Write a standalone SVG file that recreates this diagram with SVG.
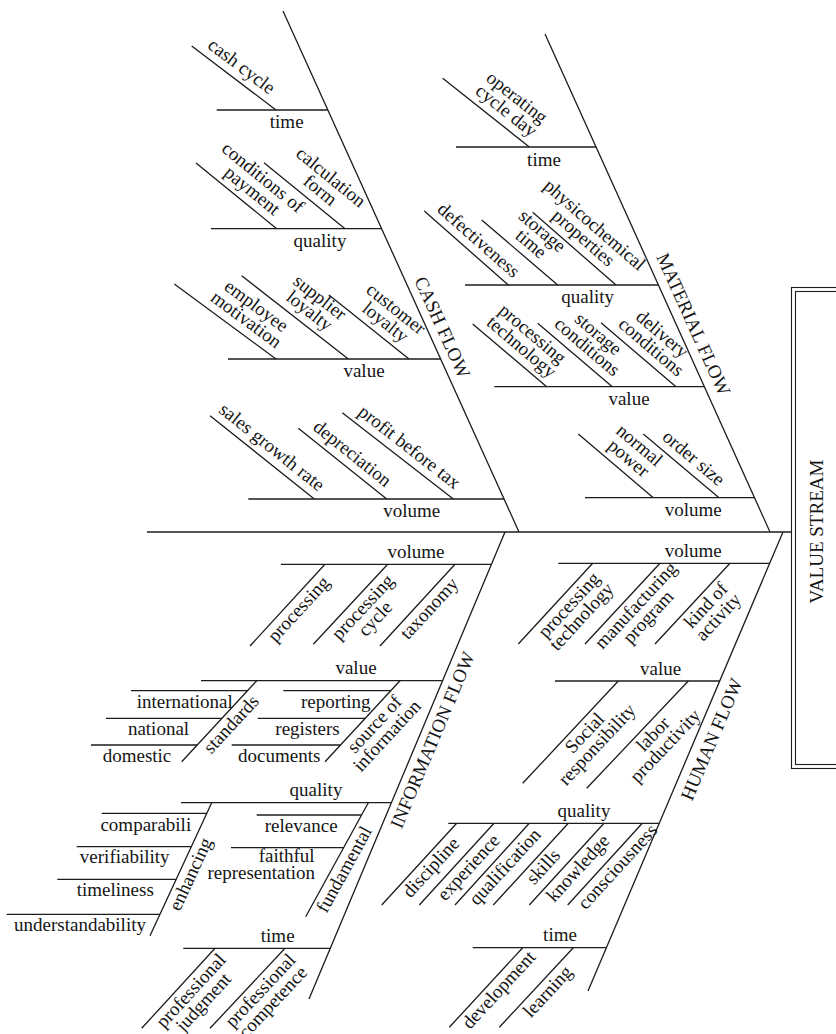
<svg xmlns="http://www.w3.org/2000/svg" width="836" height="1034" viewBox="0 0 836 1034">
<style>
.ln{stroke:#1c1c1c;stroke-width:1.3;fill:none;stroke-linecap:butt}
.bx{stroke:#1c1c1c;stroke-width:1.1;fill:none}
text{font-family:"Liberation Serif","Times New Roman",serif;font-size:19px;fill:#151515;text-anchor:middle}
</style>
<rect width="836" height="1034" fill="#ffffff"/>
<g id="connectors">
<path class="ln" d="M147,532 H791.5"/>
<path class="ln" d="M283,11 L519,532 M545,34 L770,532 M505,532 L309,999 M783,532 L588,991"/>
<path class="ln" d="M216.7,110 H327.8 M211,228.7 H381.6 M228,359 H440.6 M248.3,499 H504.1"/>
<path class="ln" d="M191.7,46 L276,110 M264,162.7 L345,228.7 M196,163 L276.7,228.7 M329,295 L409,359 M241.7,275.7 L348.3,359 M174.3,284 L276,359 M342.3,412.7 L453.3,499 M298.3,428.3 L386.7,499 M210,415.7 L314.3,499"/>
<path class="ln" d="M456,147 H596 M465,285 H658.4 M494.3,386.7 H704.3 M585,497.7 H754.5"/>
<path class="ln" d="M442.7,78.3 L529.3,147 M424.3,211 L508.3,285 M481.7,220 L557.7,285 M532.7,212.3 L616,285 M472.7,324 L546.7,386.7 M537.7,323.3 L612.3,386.7 M601,322.7 L676,386.7 M578.3,434 L653.3,497.7 M643.3,434 L719,497.7"/>
<path class="ln" d="M281,564.3 H491.4 M201,680.7 H442.5 M181,802.7 H391.3 M183.3,948.3 H330.2"/>
<path class="ln" d="M325,564.3 L250,646 M387.7,564.3 L313.3,644.3 M455,564.3 L380,646 M256.7,680.7 L181.7,761.7 M400,680.7 L325,761.7 M211.7,802.7 L150,935.7 M368.3,802.7 L305.7,916.7 M215,948.3 L141.7,1028.3 M285,948.3 L210,1028.3"/>
<path class="ln" d="M131,690.7 H247.4 M106,718.3 H221.9 M91,745 H197.2 M283.3,690.7 H390.7 M257.7,718.3 H365.2 M231.7,745 H340.5 M101.7,813.3 H206.8 M76.7,846.7 H191.3 M57.3,879.3 H176.2 M6.7,914.3 H159.9 M256.7,815 H361.5 M231,847.7 H343.6"/>
<path class="ln" d="M558.3,563.3 H770 M555,681 H719.7 M448.3,823.3 H659.2 M472.7,947.7 H606.3"/>
<path class="ln" d="M592.7,563.3 L518.3,644 M660,563.3 L585,644 M730,563.3 L655,644 M618.3,681 L522.7,783.3 M688.3,681 L586.7,788.3 M456.7,823.3 L381.7,905 M494,823.3 L419.3,905 M529.3,823.3 L455,905 M568.3,823.3 L493.3,905 M604,823.3 L529.3,905 M642.3,823.3 L567.7,905 M522.7,947.7 L449.3,1027.3 M573.3,947.7 L499.3,1027.3"/>
</g>
<g id="value-stream">
<rect class="bx" x="791.5" y="287.5" width="60" height="481"/>
<rect class="bx" x="795.5" y="291.5" width="60" height="473"/>
<text transform="translate(823,531.5) rotate(-90)">VALUE STREAM</text>
</g>
<g id="cash-flow">
<text transform="translate(436.6,329.9) rotate(65.6)">CASH FLOW</text>
<text x="286.7" y="128">time</text>
<text x="320" y="246.5">quality</text>
<text x="364" y="377">value</text>
<text x="411.7" y="517">volume</text>
<text transform="translate(237.9,71.1) rotate(37.2)">cash cycle</text>
<text transform="translate(316.4,195) rotate(39.2)"><tspan x="0" y="-17">calculation</tspan><tspan x="0" y="0">form</tspan></text>
<text transform="translate(248.3,195.3) rotate(39.2)"><tspan x="0" y="-17">conditions of</tspan><tspan x="0" y="0">payment</tspan></text>
<text transform="translate(381.6,326.9) rotate(38.7)"><tspan x="0" y="-17">customer</tspan><tspan x="0" y="0">loyalty</tspan></text>
<text transform="translate(305.7,315.6) rotate(38)"><tspan x="0" y="-17">supplier</tspan><tspan x="0" y="0">loyalty</tspan></text>
<text transform="translate(242.6,324.4) rotate(36.4)"><tspan x="0" y="-17">employee</tspan><tspan x="0" y="0">motivation</tspan></text>
<text transform="translate(405.6,451.8) rotate(37.9)">profit before tax</text>
<text transform="translate(348.6,458.3) rotate(38.7)">depreciation</text>
<text transform="translate(268.1,451.9) rotate(38.6)">sales growth rate</text>
</g>
<g id="material-flow">
<text transform="translate(687.6,326.8) rotate(65.7)">MATERIAL FLOW</text>
<text x="544" y="165.5">time</text>
<text x="587.7" y="303">quality</text>
<text x="629" y="404.5">value</text>
<text x="693.3" y="515.5">volume</text>
<text transform="translate(502.6,115.5) rotate(38.4)"><tspan x="0" y="-17">operating</tspan><tspan x="0" y="0">cycle day</tspan></text>
<text transform="translate(474.6,244.7) rotate(41.4)">defectiveness</text>
<text transform="translate(527.2,248.4) rotate(40.5)"><tspan x="0" y="-17">storage</tspan><tspan x="0" y="0">time</tspan></text>
<text transform="translate(579.4,242.4) rotate(41.1)"><tspan x="0" y="-17">physicochemical</tspan><tspan x="0" y="0">properties</tspan></text>
<text transform="translate(517.6,351.5) rotate(40.3)"><tspan x="0" y="-17">processing</tspan><tspan x="0" y="0">technology</tspan></text>
<text transform="translate(583.3,351.5) rotate(40.4)"><tspan x="0" y="-17">storage</tspan><tspan x="0" y="0">conditions</tspan></text>
<text transform="translate(647.3,351.6) rotate(40.5)"><tspan x="0" y="-17">delivery</tspan><tspan x="0" y="0">conditions</tspan></text>
<text transform="translate(624.6,462.8) rotate(40.3)"><tspan x="0" y="-17">normal</tspan><tspan x="0" y="0">power</tspan></text>
<text transform="translate(689.8,462.7) rotate(40.1)">order size</text>
</g>
<g id="information-flow">
<text transform="translate(438.3,742.5) rotate(-67.1)">INFORMATION FLOW</text>
<text x="416" y="558">volume</text>
<text x="356" y="674">value</text>
<text x="316" y="796">quality</text>
<text x="277.7" y="941.5">time</text>
<text transform="translate(303.1,613.3) rotate(-47.5)">processing</text>
<text transform="translate(367.2,611.2) rotate(-47.1)"><tspan x="0" y="0">processing</tspan><tspan x="0" y="17">cycle</tspan></text>
<text transform="translate(433.7,612.5) rotate(-47.5)">taxonomy</text>
<text transform="translate(235.6,728.4) rotate(-47.2)">standards</text>
<text transform="translate(378.9,728.4) rotate(-47.2)"><tspan x="0" y="0">source of</tspan><tspan x="0" y="17">information</tspan></text>
<text x="184.7" y="708">international</text>
<text x="158.5" y="735">national</text>
<text x="137" y="762">domestic</text>
<text x="335.8" y="708">reporting</text>
<text x="307.5" y="735">registers</text>
<text x="279.2" y="762">documents</text>
<text transform="translate(196.1,876.7) rotate(-65.1)">enhancing</text>
<text transform="translate(349.5,872.3) rotate(-61.2)">fundamental</text>
<text x="145.8" y="830.5">comparabili</text>
<text x="124.7" y="862.5">verifiability</text>
<text x="115.3" y="895.5">timeliness</text>
<text x="80" y="931">understandability</text>
<text x="301.2" y="832">relevance</text>
<text x="286.7" y="862">faithful</text>
<text x="261.2" y="879">representation</text>
<text transform="translate(195.4,994.8) rotate(-47.5)"><tspan x="0" y="0">professional</tspan><tspan x="0" y="17">judgment</tspan></text>
<text transform="translate(264.8,994.7) rotate(-46.8)"><tspan x="0" y="0">professional</tspan><tspan x="0" y="17">competence</tspan></text>
</g>
<g id="human-flow">
<text transform="translate(717.5,741.7) rotate(-66.9)">HUMAN FLOW</text>
<text x="693.3" y="557">volume</text>
<text x="660.7" y="674.5">value</text>
<text x="584" y="817">quality</text>
<text x="560" y="941">time</text>
<text transform="translate(573.5,609.2) rotate(-47.3)"><tspan x="0" y="0">processing</tspan><tspan x="0" y="17">technology</tspan></text>
<text transform="translate(640.3,609.5) rotate(-47.1)"><tspan x="0" y="0">manufacturing</tspan><tspan x="0" y="17">program</tspan></text>
<text transform="translate(710.3,609.5) rotate(-47.1)"><tspan x="0" y="0">kind of</tspan><tspan x="0" y="17">activity</tspan></text>
<text transform="translate(589.1,737.2) rotate(-46.9)"><tspan x="0" y="0">Social</tspan><tspan x="0" y="17">responsibility</tspan></text>
<text transform="translate(657.4,738.3) rotate(-46.6)"><tspan x="0" y="0">labor</tspan><tspan x="0" y="17">productivity</tspan></text>
<text transform="translate(435.4,871.5) rotate(-47.5)">discipline</text>
<text transform="translate(473,871.5) rotate(-47.5)">experience</text>
<text transform="translate(509.4,870.8) rotate(-47.5)">qualification</text>
<text transform="translate(547.7,870.8) rotate(-47.5)">skills</text>
<text transform="translate(582.4,872.3) rotate(-47.5)">knowledge</text>
<text transform="translate(622.1,870.8) rotate(-47.5)">consciousness</text>
<text transform="translate(503.2,994) rotate(-47.3)">development</text>
<text transform="translate(552,995.7) rotate(-47.1)">learning</text>
</g>
</svg>
